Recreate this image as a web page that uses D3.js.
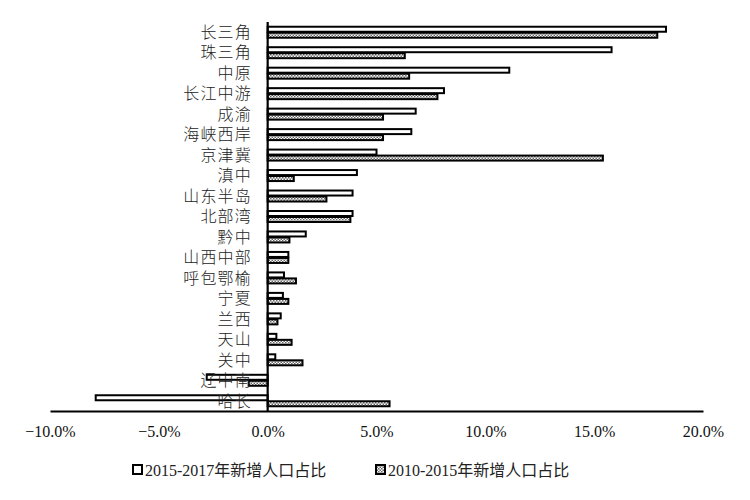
<!DOCTYPE html>
<html><head><meta charset="utf-8">
<script src="https://cdn.jsdelivr.net/npm/d3@7"></script>
<style>body{margin:0;background:#fff}</style>
</head><body><svg id="c" width="750" height="500"></svg>
<script>
const categories = ["长三角","珠三角","中原","长江中游","成渝","海峡西岸","京津冀","滇中","山东半岛","北部湾","黔中","山西中部","呼包鄂榆","宁夏","兰西","天山","关中","辽中南","哈长"];
const share2015_2017 = [18.3,15.8,11.1,8.1,6.8,6.6,5.0,4.1,3.9,3.9,1.75,0.95,0.75,0.7,0.6,0.4,0.35,-2.8,-7.9];
const share2010_2015 = [17.9,6.3,6.5,7.8,5.3,5.3,15.4,1.2,2.7,3.8,1.0,0.95,1.3,0.95,0.45,1.1,1.6,-0.87,5.6];
const seriesNames = ["2015-2017年新增人口占比","2010-2015年新增人口占比"];
const tickValues = [-10,-5,0,5,10,15,20];

const svg = d3.select("#c");
const defs = svg.append("defs");
const pat = defs.append("pattern").attr("id","hatch").attr("patternUnits","userSpaceOnUse").attr("width",3).attr("height",3);
pat.append("rect").attr("width",3).attr("height",3).attr("fill","#fff");
pat.append("rect").attr("width",1.5).attr("height",1.5).attr("fill","#666");
pat.append("rect").attr("x",1.5).attr("y",1.5).attr("width",1.5).attr("height",1.5).attr("fill","#666");

const x = d3.scaleLinear().domain([-10,20]).range([50,703]);
const y = d3.scaleBand().domain(categories).range([22,411]);
const barH = 5;

const serif = "'Liberation Serif','Times New Roman',serif";
const cjk = "'Liberation Serif','Noto Sans CJK SC','Noto Sans CJK JP',serif";

const g = svg.append("g");
categories.forEach((c,i)=>{
  const yc = y(c) + y.bandwidth()/2;
  const a = share2015_2017[i], b = share2010_2015[i];
  g.append("rect").attr("x",Math.min(x(0),x(a))).attr("y",yc-barH-0.5).attr("width",Math.abs(x(a)-x(0))).attr("height",barH)
    .attr("fill","#fff").attr("stroke","#000").attr("stroke-width",2);
  g.append("rect").attr("x",Math.min(x(0),x(b))).attr("y",yc+0.5).attr("width",Math.abs(x(b)-x(0))).attr("height",barH)
    .attr("fill","url(#hatch)").attr("stroke","#000").attr("stroke-width",2);
});

// axes
const xAxis = d3.axisBottom(x).tickValues(tickValues).tickSize(0).tickPadding(15).tickFormat(d=>d3.format(".1f")(d)+"%");
const ax = svg.append("g").attr("transform","translate(0,411)").call(xAxis);
ax.select(".domain").attr("stroke","#000").attr("stroke-width",2.2);
ax.selectAll("text").attr("font-family",serif).attr("font-size",16).attr("fill","#111");

svg.append("line").attr("x1",x(0)).attr("x2",x(0)).attr("y1",22).attr("y2",411).attr("stroke","#000").attr("stroke-width",2.2);

// category labels
svg.append("g").selectAll("text").data(categories).join("text")
  .attr("x",252).attr("y",d=>y(d)+y.bandwidth()/2).attr("dy","0.36em")
  .attr("text-anchor","end").attr("font-family",cjk).attr("font-size",16).attr("font-weight",300)
  .attr("letter-spacing",1.2).attr("fill","#222").text(d=>d);

// legend
const leg = svg.append("g").attr("font-family",cjk).attr("font-size",16).attr("fill","#222");
const lx = [132,375];
seriesNames.forEach((s,i)=>{
  leg.append("rect").attr("x",lx[i]+1).attr("y",465).attr("width",9).attr("height",9)
    .attr("fill",i===0?"#fff":"url(#hatch)").attr("stroke","#000").attr("stroke-width",2);
  leg.append("text").attr("x",lx[i]+13).attr("y",470).attr("dy","0.36em").text(s);
});
</script></body></html>
